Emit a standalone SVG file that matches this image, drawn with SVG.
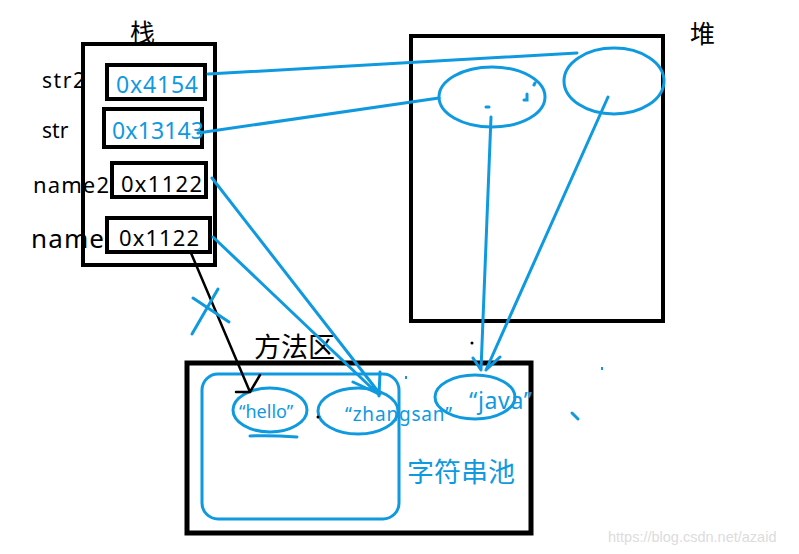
<svg xmlns="http://www.w3.org/2000/svg" width="799" height="554" viewBox="0 0 799 554">
<defs>
<style>
.blk{fill:none;stroke:#000;stroke-width:4}
.bl{fill:none;stroke:#0f9ae0;stroke-width:3;stroke-linecap:round}
.bk{fill:none;stroke:#000;stroke-width:2.5;stroke-linecap:round}
.t{font-family:"Noto Sans","Open Sans","Noto Sans CJK SC",sans-serif;fill:#000}
.tb{font-family:"Noto Sans","Open Sans","Noto Sans CJK SC",sans-serif;fill:#0f9ae0}
.cn{font-family:"Noto Sans CJK SC",sans-serif}
</style>
</defs>
<rect width="799" height="554" fill="#fff"/>

<g id="stack">
<rect class="blk" x="83" y="44" width="132" height="221"/>
<text class="t cn" x="130" y="42" font-size="25">栈</text>
</g>
<g id="str2">
<text class="t" x="42" y="88" font-size="21" textLength="43">str2</text>
<rect class="blk" x="107" y="65" width="98" height="34"/>
<text class="tb" x="116" y="93" font-size="23" textLength="82">0x4154</text>
</g>
<g id="str">
<text class="t" x="42" y="138" font-size="21">str</text>
<rect class="blk" x="104" y="109" width="98" height="38"/>
<text class="tb" x="112" y="139" font-size="23" textLength="92">0x13143</text>
</g>
<g id="name2">
<text class="t" x="33" y="193" font-size="22" textLength="76">name2</text>
<rect class="blk" x="112" y="163" width="94" height="34"/>
<text class="t" x="121" y="192" font-size="22" textLength="81">0x1122</text>
</g>
<g id="name">
<text class="t" x="31" y="248" font-size="26" textLength="73">name</text>
<rect class="blk" x="107" y="218" width="103" height="34"/>
<text class="t" x="119" y="246" font-size="22" textLength="80">0x1122</text>
</g>

<g id="heap">
<rect class="blk" x="411" y="36" width="252" height="285"/>
<text class="t cn" x="690" y="43" font-size="25">堆</text>
<ellipse class="bl" cx="492" cy="97" rx="53" ry="30"/>
<ellipse class="bl" cx="614" cy="81" rx="50" ry="33"/>
<path class="bl" d="M486 107h3M527 94v6h-3M534 85l1 -2" stroke-width="2"/>
</g>

<g id="method-area">
<rect x="187" y="363" width="344" height="170" fill="none" stroke="#000" stroke-width="5"/>
<text class="t cn" x="254" y="357" font-size="27">方法区</text>
</g>
<g id="string-pool">
<rect class="bl" x="202" y="374" width="197" height="145" rx="16"/>
<text class="tb cn" x="407" y="482" font-size="27">字符串池</text>
</g>
<g id="hello">
<ellipse class="bl" cx="270" cy="410" rx="37" ry="22"/>
<text class="tb" x="239" y="418" font-size="18">“hello”</text>
<path class="bl" d="M250 436q20 -1 47 1"/>
</g>
<g id="zhangsan">
<ellipse class="bl" cx="358" cy="411" rx="40" ry="23"/>
<text class="tb" x="345" y="421" font-size="19" textLength="107">“zhangsan”</text>
</g>
<g id="java">
<ellipse class="bl" cx="475" cy="397" rx="40" ry="22"/>
<text class="tb" x="469" y="409" font-size="23" textLength="63">“java”</text>
</g>

<g id="connectors">
<path class="bl" d="M208 74L577 53"/>
<path class="bl" d="M198 133L439 98"/>
<path class="bl" d="M491 117L481 370M473 358L481 370"/>
<path class="bl" d="M608 97L486 370M500 357L486 370"/>
<path class="bl" d="M212 178L380 394M213 237L378 394M353 382L379 394M380 372L379 396"/>
<path class="bk" d="M191 253L250 392M260 375L250 392L236 392"/>
<path class="bl" d="M192 334L218 289M193 298L229 322"/>
<circle cx="318" cy="417" r="1.5" fill="#000"/>
<circle cx="472" cy="343" r="1.5" fill="#000"/>
<rect x="405" y="376" width="2" height="3" fill="#0f9ae0"/>
<rect x="601" y="367" width="2" height="3" fill="#0f9ae0"/>
<path class="bl" d="M572 413l6 6"/>
</g>
<text x="608" y="542" font-family="Liberation Sans,sans-serif" font-size="14.5" fill="#dcdcdc">https://blog.csdn.net/azaid</text>
</svg>
